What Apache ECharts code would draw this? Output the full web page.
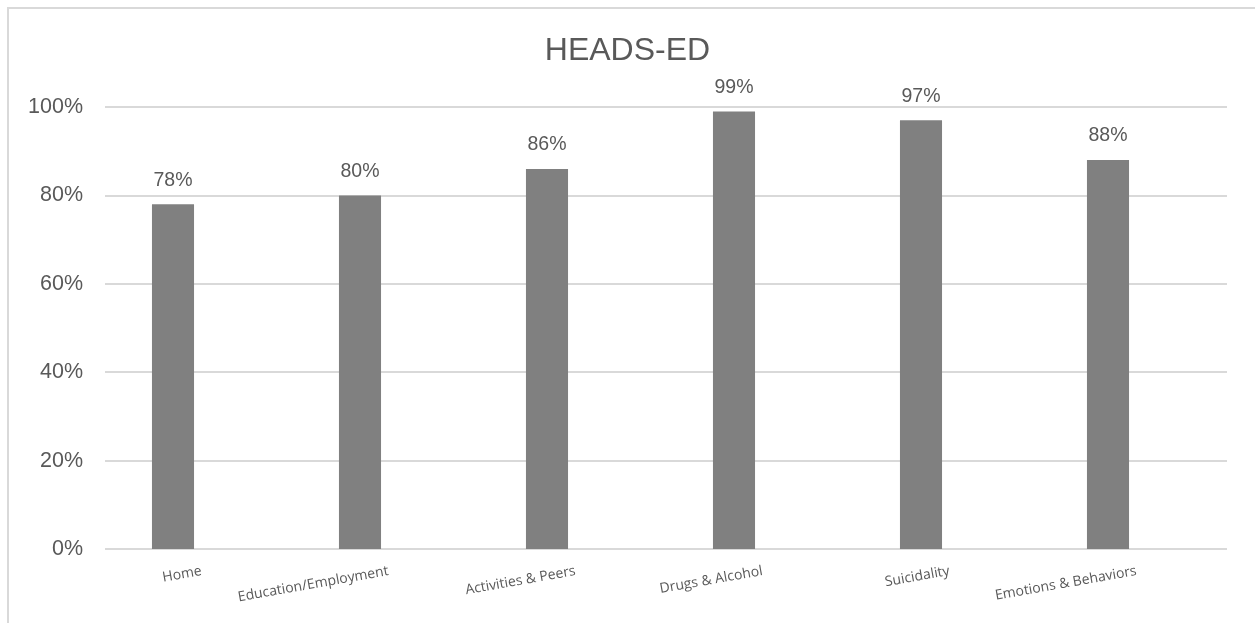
<!DOCTYPE html>
<html>
<head>
<meta charset="utf-8">
<title>HEADS-ED</title>
<script src="https://cdn.jsdelivr.net/npm/echarts@6/dist/echarts.min.js"></script>
<style>
  html, body { margin: 0; padding: 0; background: #ffffff; }
  #chart { width: 1255px; height: 623px; }
</style>
</head>
<body>
<div id="chart"></div>
<script>
// Domains of the HEADS-ED assessment
const categories = ['Home', 'Education/Employment', 'Activities & Peers', 'Drugs & Alcohol', 'Suicidality', 'Emotions & Behaviors'];
// Share of records covering each domain (%)
const coverage = [78, 80, 86, 99, 97, 88];
// Value axis ticks (%)
const yTicks = [0, 20, 40, 60, 80, 100];

const TEXT = '#595959';
const GRID_LINE = '#d9d9d9';
const TOP = 107, BOTTOM = 74;

const chart = echarts.init(document.getElementById('chart'), null, { renderer: 'canvas' });

const valueAxisBase = {
  type: 'value',
  min: yTicks[0],
  max: yTicks[yTicks.length - 1],
  interval: yTicks[1] - yTicks[0]
};

chart.setOption({
  backgroundColor: '#ffffff',
  animation: false,
  title: {
    text: 'HEADS-ED',
    left: 'center',
    top: 30,
    textStyle: { fontFamily: 'Liberation Sans', fontSize: 32, fontWeight: 'normal', color: TEXT }
  },
  graphic: [{
    type: 'rect',
    shape: { x: 8, y: 8, width: 1400, height: 800 },
    style: { fill: 'none', stroke: GRID_LINE, lineWidth: 2 },
    silent: true,
    z: -10
  }],
  grid: [
    // bars
    { left: 79.5, right: 53.5, top: TOP, bottom: BOTTOM },
    // gridlines and value labels
    { left: 105, right: 28, top: TOP, bottom: BOTTOM },
    // category labels
    { left: 108, right: 25, top: TOP, bottom: BOTTOM }
  ],
  xAxis: [
    {
      gridIndex: 0, type: 'category', data: categories,
      axisLine: { show: false }, axisTick: { show: false }, axisLabel: { show: false }
    },
    {
      gridIndex: 1, type: 'category', data: categories,
      axisLine: { show: false }, axisTick: { show: false }, axisLabel: { show: false }
    },
    {
      gridIndex: 2, type: 'category', data: categories,
      axisLine: { show: false }, axisTick: { show: false },
      axisLabel: {
        rotate: 10,
        margin: 22,
        interval: 0,
        fontFamily: 'Open Sans',
        fontSize: 14,
        color: TEXT
      }
    }
  ],
  yAxis: [
    Object.assign({ gridIndex: 0, show: false, splitLine: { show: false } }, valueAxisBase),
    Object.assign({
      gridIndex: 1,
      axisLine: { show: false }, axisTick: { show: false },
      axisLabel: {
        margin: 22,
        formatter: v => v + '%',
        fontFamily: 'Liberation Sans',
        fontSize: 21.5,
        color: TEXT
      },
      splitLine: { show: true, lineStyle: { color: GRID_LINE, width: 2 } }
    }, valueAxisBase),
    Object.assign({ gridIndex: 2, show: false, splitLine: { show: false } }, valueAxisBase)
  ],
  series: [{
    type: 'bar',
    xAxisIndex: 0,
    yAxisIndex: 0,
    data: coverage,
    barWidth: '22.5%',
    itemStyle: { color: '#808080' },
    label: {
      show: true,
      position: 'top',
      distance: 14,
      formatter: p => p.value + '%',
      fontFamily: 'Liberation Sans',
      fontSize: 19.5,
      color: TEXT
    },
    z: 5
  }]
});
</script>
</body>
</html>
